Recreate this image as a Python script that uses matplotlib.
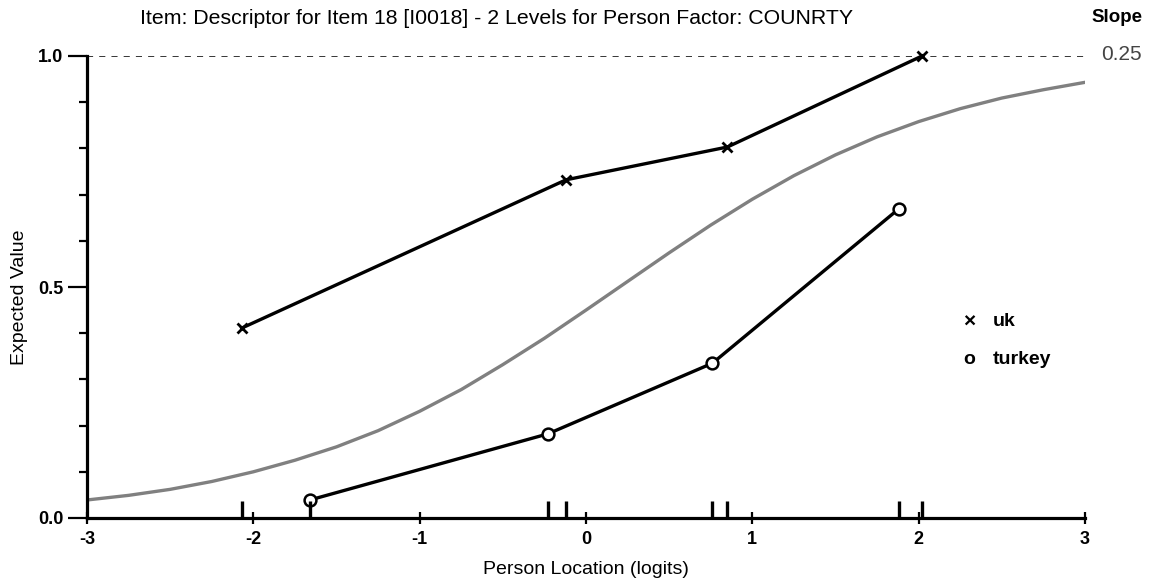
import matplotlib
matplotlib.use("Agg")
import matplotlib.pyplot as plt
from matplotlib.ticker import MultipleLocator

plt.rcParams['font.family'] = ['Liberation Sans', 'DejaVu Sans']
plt.rcParams['axes.unicode_minus'] = False

# class interval means and observed values
uk_x = [-2.07, -0.12, 0.85, 2.02]
uk_y = [0.411, 0.732, 0.803, 1.0]
turkey_x = [-1.66, -0.23, 0.76, 1.88]
turkey_y = [0.039, 0.182, 0.335, 0.669]

# expected value curve
icc_x = [-3.0, -2.75, -2.5, -2.25, -2.0, -1.75, -1.5, -1.25, -1.0, -0.75, -0.5,
         -0.25, 0.0, 0.25, 0.5, 0.75, 1.0, 1.25, 1.5, 1.75, 2.0, 2.25, 2.5, 2.75, 3.0]
icc_y = [0.039, 0.049, 0.062, 0.079, 0.100, 0.125, 0.154, 0.189, 0.231, 0.278, 0.332,
         0.389, 0.450, 0.512, 0.574, 0.634, 0.690, 0.741, 0.786, 0.825, 0.858, 0.886,
         0.909, 0.927, 0.943]

slope_txt = "0.25"
title = "Item: Descriptor for Item 18 [I0018] - 2 Levels for Person Factor: COUNRTY"

fig = plt.figure(figsize=(11.49, 5.8), dpi=100)
ax = fig.add_axes([87 / 1149, 1 - 518 / 580, 998 / 1149, 462 / 580])

ax.plot(icc_x, icc_y, color='#808080', lw=2.4, zorder=2)
ax.plot(uk_x, uk_y, color='black', lw=2.4, marker='x', ms=7.5, mew=2.0, zorder=3,
        clip_on=False)
ax.plot(turkey_x, turkey_y, color='black', lw=2.4, marker='o', ms=8.5, mew=1.8,
        mfc='white', zorder=3, clip_on=False)

# rug of class interval locations
ax.vlines(uk_x + turkey_x, 0, 0.036, color='black', lw=2.4, zorder=4)

ax.axhline(1.0, color='black', lw=1.1, ls=(0, (4, 4)), zorder=1)

ax.set_xlim(-3, 3)
ax.set_ylim(0, 1)
ax.set_xticks([-3, -2, -1, 0, 1, 2, 3])
ax.set_yticks([0, 0.5, 1.0])
ax.set_yticklabels(['0.0', '0.5', '1.0'])
ax.yaxis.set_minor_locator(MultipleLocator(0.1))

for s in ['top', 'right']:
    ax.spines[s].set_visible(False)
for s in ['left', 'bottom']:
    ax.spines[s].set_linewidth(2.3)

ax.tick_params(axis='x', which='major', direction='inout', length=9, width=1.6,
               labelsize=13, pad=5)
ax.tick_params(axis='y', which='major', direction='out', length=14, width=1.6,
               labelsize=13, pad=3)
ax.tick_params(axis='y', which='minor', direction='out', length=6, width=1.6)
for lab in ax.get_xticklabels() + ax.get_yticklabels():
    lab.set_fontweight('bold')

fig.text(586 / 1149, 1 - 569 / 580, "Person Location (logits)", ha='center',
         va='center', fontsize=14)
fig.text(20 / 1149, 1 - 297 / 580, "Expected Value", ha='center', va='center',
         fontsize=14, rotation=90)

fig.text(497 / 1149, 1 - 18 / 580, title, ha='center', va='center', fontsize=15.3)
fig.text(1117 / 1149, 1 - 17 / 580, "Slope", ha='center', va='center',
         fontsize=13.5, fontweight='bold')
fig.text(1121 / 1149, 1 - 55 / 580, slope_txt, ha='center', va='center',
         fontsize=15, color='#444444')

# legend drawn as text
fig.text(969 / 1149, 1 - 322 / 580, "×", ha='center', va='center', fontsize=15,
         fontweight='bold')
fig.text(993 / 1149, 1 - 322 / 580, "uk", ha='left', va='center', fontsize=14,
         fontweight='bold')
fig.text(969 / 1149, 1 - 359 / 580, "o", ha='center', va='center', fontsize=14,
         fontweight='bold')
fig.text(993 / 1149, 1 - 359 / 580, "turkey", ha='left', va='center', fontsize=14,
         fontweight='bold')

fig.savefig("out.png", dpi=100)
